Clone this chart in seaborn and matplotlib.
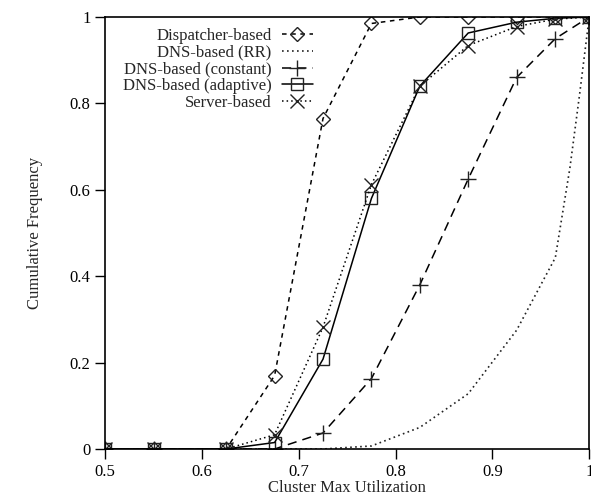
import matplotlib
matplotlib.use("Agg")
import matplotlib.pyplot as plt
import seaborn as sns

# ---------------------------
# data
# ---------------------------

util = [0.5, 0.55, 0.625, 0.675, 0.725, 0.775, 0.825, 0.875, 0.925, 0.965, 1.0]

dispatcher = [0, 0, 0, 0.17, 0.765, 0.985, 1.0, 1.0, 1.0, 1.0, 1.0]
dns_constant = [0, 0, 0, 0, 0.037, 0.163, 0.38, 0.625, 0.86, 0.95, 1.0]
dns_adaptive = [0, 0, 0, 0.015, 0.208, 0.58, 0.84, 0.963, 0.988, 0.997, 1.0]
server = [0, 0, 0, 0.033, 0.282, 0.612, 0.84, 0.934, 0.978, 0.995, 1.0]

# RR curve is drawn without markers and has a few extra points near the end
util_rr = [0.5, 0.55, 0.625, 0.675, 0.725, 0.775, 0.825, 0.875, 0.925, 0.965, 0.98, 0.99, 1.0]
dns_rr = [0, 0, 0, 0, 0, 0.007, 0.05, 0.128, 0.275, 0.443, 0.65, 0.82, 1.0]

x_ticks = [0.5, 0.6, 0.7, 0.8, 0.9, 1.0]
y_ticks = [0, 0.2, 0.4, 0.6, 0.8, 1.0]

# ---------------------------
# plot
# ---------------------------

sns.set_theme(style="white")
plt.rcParams["font.family"] = ["Liberation Serif", "DejaVu Serif"]
plt.rcParams["font.size"] = 12

fig = plt.figure(figsize=(5.91, 5.0), dpi=100)
ax = fig.add_axes([0.178, 0.102, 0.819, 0.864])

common = dict(ax=ax, color="black", linewidth=1.1, markersize=8,
              markerfacecolor="none", markeredgecolor="#222222",
              markeredgewidth=1.0)

sns.lineplot(x=util, y=dispatcher, marker="D", linestyle=(0, (3, 3)),
             label="Dispatcher-based", **{**common, "markersize": 7})
sns.lineplot(x=util_rr, y=dns_rr, linestyle=(0, (1, 2)),
             label="DNS-based (RR)", ax=ax, color="#222222", linewidth=1.2)
sns.lineplot(x=util, y=dns_constant, marker="+", linestyle=(0, (6, 4)),
             label="DNS-based (constant)", **{**common, "markersize": 11})
sns.lineplot(x=util, y=dns_adaptive, marker="s", linestyle="-",
             label="DNS-based (adaptive)", **common)
sns.lineplot(x=util, y=server, marker="x", linestyle=(0, (1, 2)),
             label="Server-based", **{**common, "markersize": 10})

ax.set_xlim(0.5, 1.0)
ax.set_ylim(0, 1.0)
ax.set_xticks(x_ticks)
ax.set_yticks(y_ticks)
ax.set_xticklabels([f"{v:g}" for v in x_ticks])
ax.set_yticklabels([f"{v:g}" for v in y_ticks])
ax.tick_params(axis="both", direction="out", length=7, width=1, color="black",
               labelsize=12, labelcolor="black", bottom=True, left=True)

for s in ax.spines.values():
    s.set_color("black")
    s.set_linewidth(1.2)

ax.set_xlabel("Cluster Max Utilization", fontsize=12, labelpad=0)
ax.set_ylabel("Cumulative Frequency", fontsize=12, labelpad=19)

ax.legend(loc="upper right", bbox_to_anchor=(0.43, 0.975), frameon=False,
          markerfirst=False, handlelength=1.9, handletextpad=0.6,
          labelspacing=0.05, borderpad=0, borderaxespad=0, fontsize=12)

plt.savefig("out.png", dpi=100)
